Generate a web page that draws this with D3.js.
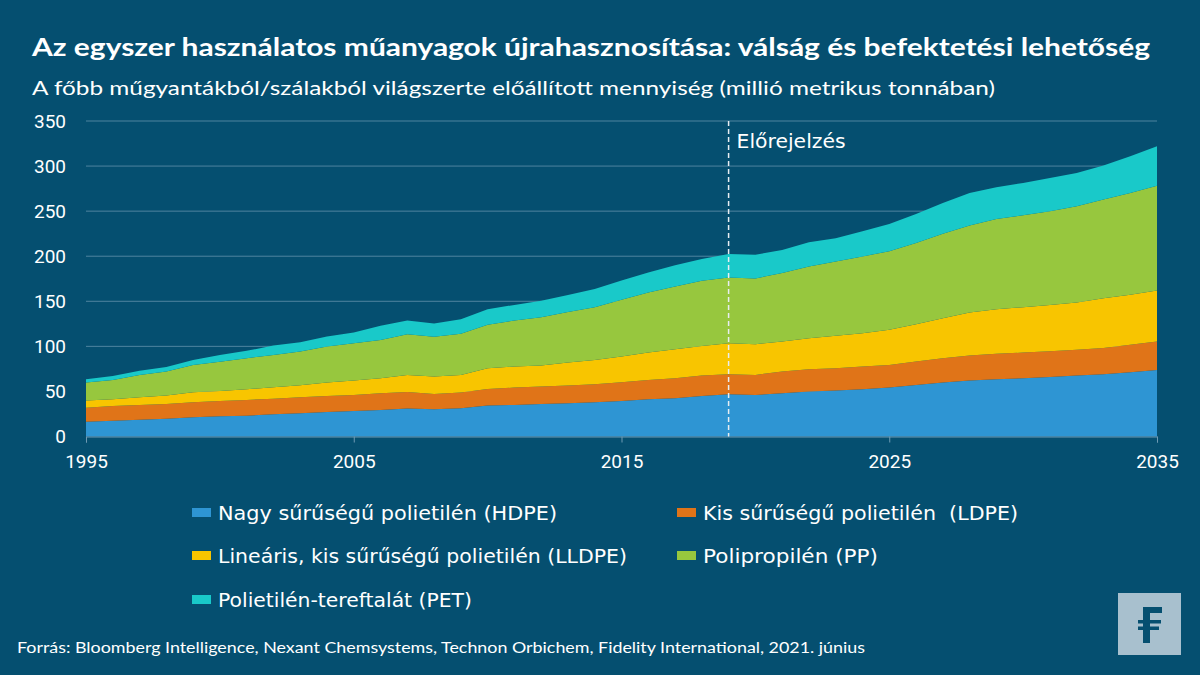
<!DOCTYPE html>
<html><head><meta charset="utf-8">
<script src="https://cdn.jsdelivr.net/npm/d3@7/dist/d3.min.js"></script>
<style>
html,body{margin:0;padding:0;background:#054f70;}
svg{display:block;}
text{font-family:Lato,"Open Sans",Roboto,sans-serif;fill:#fff;}
</style></head>
<body>
<svg id="c" width="1200" height="675"></svg>
<script>
const years = d3.range(1995, 2036);
const keys = ["HDPE","LDPE","LLDPE","PP","PET"];
const labels = ["Nagy sűrűségű polietilén (HDPE)","Kis sűrűségű polietilén  (LDPE)","Lineáris, kis sűrűségű polietilén (LLDPE)","Polipropilén (PP)","Polietilén-tereftalát (PET)"];
const colors = ["#2e95d3","#e07418","#f8c500","#97c73e","#19c9c9"];
const HDPE = [16.5,17.6,18.7,19.8,21.3,22.4,23.1,24.6,25.7,27.2,28.3,29.4,31.0,30.2,31.3,34.3,35.0,36.1,36.8,37.9,39.4,41.3,42.4,45.0,46.9,46.1,48.0,49.8,50.9,52.4,54.3,57.2,59.8,62.0,63.5,64.6,66.1,67.6,69.1,71.3,73.9];
const LDPE = [15.5,16.3,16.3,16.3,16.7,17.0,17.5,17.4,17.8,17.8,17.8,18.6,18.5,17.0,17.4,18.5,19.3,19.3,19.7,20.1,20.8,21.5,22.2,22.6,22.2,22.2,24.0,24.8,24.8,25.2,25.1,25.9,27.1,27.8,28.2,28.5,28.5,28.5,29.2,30.4,31.5];
const LLDPE = [7.8,7.4,8.5,9.3,11.1,11.2,11.8,12.6,13.4,14.8,15.9,16.6,18.8,19.3,19.6,22.9,23.3,23.3,25.5,27.0,28.5,30.3,32.3,32.9,34.4,34.1,33.4,34.5,36.0,37.0,38.9,41.5,44.4,47.8,49.6,50.4,51.4,52.6,55.2,55.5,56.6];
const PP = [20.0,21.5,24.8,26.6,30.3,32.4,34.5,35.9,37.4,40.0,41.5,42.4,45.2,44.1,45.6,48.2,51.1,53.7,56.0,58.5,63.0,66.7,69.6,72.3,73.0,73.0,75.9,79.6,82.5,85.2,87.1,90.0,93.7,96.6,100.0,101.9,103.8,106.7,109.3,112.8,116.3];
const PET = [3.7,4.2,4.7,5.0,5.6,7.5,8.1,10.5,10.3,11.2,11.9,15.8,15.2,14.8,16.1,17.4,17.3,18.1,19.0,20.0,21.3,22.2,23.5,24.2,25.9,26.3,25.7,26.7,25.8,27.8,30.3,32.3,34.0,35.8,35.2,35.9,37.0,37.0,37.7,41.0,43.7];
const yTicks = [0,50,100,150,200,250,300,350];
const xTicks = [1995,2005,2015,2025,2035];
const forecastYear = 2019;
const title = "Az egyszer használatos műanyagok újrahasznosítása: válság és befektetési lehetőség";
const subtitle = "A főbb műgyantákból/szálakból világszerte előállított mennyiség (millió metrikus tonnában)";
const forecastLabel = "Előrejelzés";
const source = "Forrás: Bloomberg Intelligence, Nexant Chemsystems, Technon Orbichem, Fidelity International, 2021. június";

const series = {HDPE, LDPE, LLDPE, PP, PET};
const table = years.map((y,i)=>{const o={year:y}; keys.forEach(k=>o[k]=series[k][i]); return o;});

const svg = d3.select("#c");
const x = d3.scaleLinear().domain([1995,2035]).range([86,1157]);
const y = d3.scaleLinear().domain([0,350]).range([436.5,121]);

// grid
svg.append("g").selectAll("line").data(yTicks.filter(d=>d>0)).join("line")
  .attr("x1",86).attr("x2",1157).attr("y1",d=>y(d)).attr("y2",d=>y(d))
  .attr("stroke","#6f9bb4").attr("stroke-width",1).attr("opacity",0.7);

const stacked = d3.stack().keys(keys)(table);
const area = d3.area().x(d=>x(d.data.year)).y0(d=>y(d[0])).y1(d=>y(d[1]));
svg.append("g").selectAll("path").data(stacked).join("path")
  .attr("d",area).attr("fill",(d,i)=>colors[i]);

// x axis
const xa = svg.append("g").attr("transform",`translate(0,${y(0)})`)
  .call(d3.axisBottom(x).tickValues(xTicks).tickFormat(d3.format("d")).tickSize(6).tickPadding(12));
xa.select(".domain").attr("stroke","#6f9bb4");
xa.selectAll(".tick line").attr("stroke","#6f9bb4");
xa.selectAll(".tick text").attr("fill","#fff").style("font-size","19px").style("font-family","Roboto,sans-serif");

// y axis
const ya = svg.append("g").attr("transform","translate(66,0)")
  .call(d3.axisLeft(y).tickValues(yTicks).tickSize(0).tickPadding(0));
ya.select(".domain").remove();
ya.selectAll(".tick text").attr("fill","#fff").style("font-size","19px").style("font-family","Roboto,sans-serif");

// forecast line
svg.append("line").attr("x1",x(forecastYear)).attr("x2",x(forecastYear))
  .attr("y1",y(350)).attr("y2",y(0)).attr("stroke","#e8eef2").attr("stroke-width",1.5)
  .attr("stroke-dasharray","5,3");
svg.append("text").attr("x",x(forecastYear)+8).attr("y",148).text(forecastLabel)
  .style("font-size","19px").style("font-family","'DejaVu Sans',sans-serif")
  .attr("textLength",109).attr("lengthAdjust","spacingAndGlyphs");

// title
svg.append("text").attr("x",32).attr("y",56).text(title)
  .style("font-size","24.5px").style("font-weight","bold").attr("textLength",1118).attr("lengthAdjust","spacingAndGlyphs");
svg.append("text").attr("x",32).attr("y",95).text(subtitle)
  .style("font-size","19.5px").attr("textLength",963).attr("lengthAdjust","spacingAndGlyphs");

// legend
const legPos = [[192,513],[677,513],[192,556],[677,556],[192,600]];
const legW = [339,315,409,175,254];
const leg = svg.append("g").selectAll("g").data(keys).join("g")
  .attr("transform",(d,i)=>`translate(${legPos[i][0]},${legPos[i][1]})`);
leg.append("rect").attr("x",0).attr("y",-5).attr("width",19).attr("height",9).attr("fill",(d,i)=>colors[i]);
leg.append("text").attr("x",26).attr("y",7).text((d,i)=>labels[i])
  .style("font-size","19px").style("font-family","'DejaVu Sans',sans-serif").style("white-space","pre")
  .attr("textLength",(d,i)=>legW[i]).attr("lengthAdjust","spacingAndGlyphs");

// source
svg.append("text").attr("x",17).attr("y",653).text(source).style("font-size","15px")
  .attr("textLength",848).attr("lengthAdjust","spacingAndGlyphs");

// logo
const lg = svg.append("g");
lg.append("rect").attr("x",1118).attr("y",593).attr("width",63).attr("height",62).attr("fill","#a8c0ce");
lg.append("rect").attr("x",1143).attr("y",607).attr("width",7).attr("height",36).attr("fill","#054f70");
lg.append("rect").attr("x",1143).attr("y",607).attr("width",19).attr("height",6).attr("fill","#054f70");
lg.append("rect").attr("x",1138).attr("y",620).attr("width",23).attr("height",3.5).attr("fill","#054f70");
lg.append("rect").attr("x",1138).attr("y",626.5).attr("width",21).attr("height",3.5).attr("fill","#054f70");
</script>
</body></html>
